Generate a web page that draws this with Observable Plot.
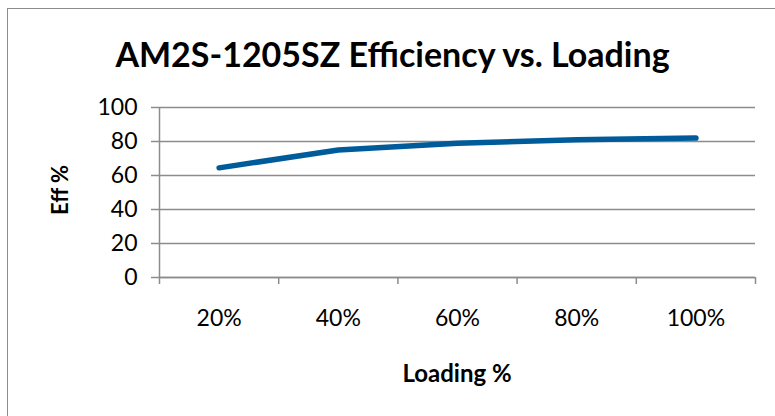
<!DOCTYPE html>
<html>
<head>
<meta charset="utf-8">
<script src="https://cdn.jsdelivr.net/npm/d3@7"></script>
<script src="https://cdn.jsdelivr.net/npm/@observablehq/plot@0.6"></script>
<style>
  html, body { margin: 0; padding: 0; background: #fff; }
  #wrap { position: relative; width: 775px; height: 416px; overflow: hidden; font-family: Lato, "Open Sans", sans-serif; }
  #frame { position: absolute; left: 7px; top: 8px; width: 800px; height: 450px; border: 1.5px solid #8c8c8c; box-sizing: border-box; }
  #title { position: absolute; left: 0; top: 34px; width: 785px; text-align: center; font-weight: bold; font-size: 34px; line-height: 40px; color: #000; white-space: nowrap; }
  #chart { position: absolute; left: 0; top: 0; }
  #xlabel { position: absolute; left: 157px; width: 600px; top: 359px; line-height: 28px; text-align: center; font-weight: bold; font-size: 24px; }
  #ylabel { position: absolute; left: 60px; top: 190px; transform: translate(-50%, -50%) rotate(-90deg); font-weight: bold; font-size: 22px; line-height: 26px; white-space: nowrap; }
</style>
</head>
<body>
<div id="wrap">
  <div id="frame"></div>
  <div id="title">AM2S-1205SZ Efficiency vs. Loading</div>
  <div id="chart"></div>
  <div id="xlabel">Loading %</div>
  <div id="ylabel">Eff %</div>
</div>
<script>
const loading = ["20%", "40%", "60%", "80%", "100%"];
const efficiency = [64.5, 75, 79, 81, 82];
const yTicks = [0, 20, 40, 60, 80, 100];

const data = loading.map((l, i) => ({ idx: i + 0.5, label: l, eff: efficiency[i] }));
const boundaries = d3.range(loading.length + 1);

const chart = Plot.plot({
  width: 775,
  height: 416,
  marginLeft: 159,
  marginRight: 20,
  marginTop: 107,
  marginBottom: 139,
  style: { fontFamily: "Lato, 'Open Sans', sans-serif", fontSize: "23px", background: "transparent", color: "#000" },
  x: { domain: [0, loading.length] },
  y: { domain: [0, 100] },
  marks: [
    Plot.gridY(yTicks, { stroke: "#8c8c8c", strokeOpacity: 1, strokeWidth: 1.5 }),
    Plot.ruleX([0], { stroke: "#8c8c8c", strokeWidth: 1.5 }),
    Plot.ruleY([0], { stroke: "#8c8c8c", strokeWidth: 1.5 }),
    Plot.axisY(yTicks, { tickSize: 8, stroke: "#8c8c8c", strokeWidth: 1.5, tickPadding: 14, fontSize: 23, fill: "#000", label: null }),
    Plot.axisX(boundaries, { tickSize: 7, stroke: "#8c8c8c", strokeWidth: 1.5, text: null, label: null }),
    Plot.axisX(data.map(d => d.idx), { tickSize: 0, tickPadding: 32, fontSize: 23, fill: "#000", tickFormat: v => loading[Math.round(v - 0.5)], label: null }),
    Plot.line(data, { x: "idx", y: "eff", stroke: "#005b9a", strokeWidth: 5.5, strokeLinecap: "round", strokeLinejoin: "round" })
  ]
});
document.getElementById("chart").appendChild(chart);
</script>
</body>
</html>
